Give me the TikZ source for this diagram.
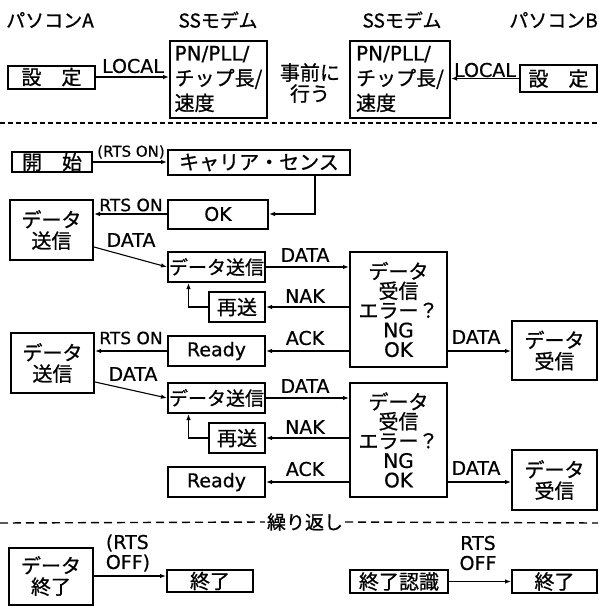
\documentclass[tikz,border=0pt]{standalone}
\usepackage{fontspec}
\setmainfont{Noto Sans CJK JP}[FakeBold=0.8]
\newfontfamily\lafont{DejaVu Sans}[FakeBold=0.6]
\usepackage{tikz}
\usetikzlibrary{arrows.meta, positioning, calc}
\newcommand{\fsz}[2]{\fontsize{#1}{#2}\selectfont}

\begin{document}
\begin{tikzpicture}[x=1pt, y=-1pt,
  box/.style={draw, line width=2pt, inner sep=0pt, align=center, font=\fsz{20}{21}},
  latbox/.style={box, font=\lafont\fsz{19}{21}},
  lbl/.style={inner sep=0pt, align=center, font=\lafont\fsz{19}{20}},
  hdr/.style={inner sep=0pt, font=\fsz{19}{20}},
  conn/.style={line width=1.1pt, -{Latex[length=6pt,width=4.5pt]}},
  sepline/.style={line width=1.4pt, dash pattern=on 5pt off 3pt}]
  \useasboundingbox (0,0) rectangle (598,606);

  % headers
  \node[hdr] (hdrA) at (50,20) {パソコンA};
  \node[hdr] (hdrMA) at (218,20) {SSモデム};
  \node[hdr] (hdrMB) at (402,20) {SSモデム};
  \node[hdr, anchor=east] (hdrB) at (598,20) {パソコンB};

  % setup row
  \node[box, minimum width=87pt, minimum height=23pt] (setA) at (51.5,77) {設　定};
  \node[box, minimum width=97pt, minimum height=77pt, align=left, font=\fsz{20}{25}]
    (pnA) at (218.5,79) {{\lafont PN/PLL/}\\チップ長/\\速度};
  \node[box, minimum width=100pt, minimum height=77pt, align=left, font=\fsz{20}{25}]
    (pnB) at (400,79) {{\lafont PN/PLL/}\\チップ長/\\速度};
  \node[box, minimum width=77pt, minimum height=27pt] (setB) at (558.5,78.5) {設　定};
  \node[inner sep=0pt, align=center, font=\fsz{20}{21}] (pre) at (310,83) {事前に\\行う};
  \node[lbl] (locA) at (133,66) {LOCAL};
  \node[lbl] (locB) at (485,70) {LOCAL};
  \draw[conn] (setA.east) -- (setA.east -| pnA.west);
  \draw[conn] (setB.west) -- (setB.west -| pnB.east);

  \coordinate (sepL1) at (0,123);
  \coordinate (sepR1) at (598,123);
  \draw[sepline] (sepL1) -- (sepR1);

  % carrier sense
  \node[box, minimum width=80pt, minimum height=20pt] (start) at (52,162) {開　始};
  \node[box, minimum width=182pt, minimum height=25pt] (sense) at (259,162.5) {キャリア・センス};
  \node[latbox, minimum width=100pt, minimum height=29pt] (ok) at (218,214) {OK};
  \node[box, minimum width=83pt, minimum height=60pt] (send1) at (51.5,230) {データ\\送信};
  \node[lbl, font=\lafont\fsz{15}{16}] (rtsS) at (131,152) {(RTS ON)};
  \node[lbl, font=\lafont\fsz{17}{18}] (rts1) at (131,205) {RTS ON};
  \node[lbl] (data1) at (131,240) {DATA};
  \draw[conn] (start.east) -- (start.east -| sense.west);
  \draw[conn] ([xshift=56pt]sense.south) |- (ok.east);
  \draw[conn] (ok.west) -- (ok.west -| send1.east);

  % first block
  \node[box, minimum width=97pt, minimum height=30pt, font=\fsz{19}{20}] (sendS1) at (216.5,267) {データ送信};
  \node[box, minimum width=97pt, minimum height=115pt, font=\fsz{20}{19.5}] (recv1) at (398.5,309.5)
    {データ\\受信\\エラー？\\{\lafont NG}\\{\lafont OK}};
  \node[box, minimum width=56pt, minimum height=30pt] (resend1) at (237,307) {再送};
  \node[latbox, minimum width=97pt, minimum height=30pt] (ready1) at (216.5,351) {Ready};
  \node[box, minimum width=85pt, minimum height=59pt] (gotB1) at (554.5,350.5) {データ\\受信};
  \node[lbl] (dS1) at (305,255) {DATA};
  \node[lbl] (nak1) at (305,296) {NAK};
  \node[lbl] (ack1) at (305,338) {ACK};
  \node[lbl] (dR1) at (476,337) {DATA};
  \draw[conn] ([yshift=-17pt]send1.east) -- (sendS1.west);
  \draw[conn] (sendS1.east) -- (sendS1.east -| recv1.west);
  \draw[conn] (resend1.east -| recv1.west) -- (resend1.east);
  \draw[conn] (resend1.west) -| ([xshift=-28pt]sendS1.south);
  \draw[conn] (ready1.east -| recv1.west) -- (ready1.east);
  \draw[conn] (ready1.east -| recv1.east) -- (ready1.east -| gotB1.west);

  % second block
  \node[box, minimum width=83pt, minimum height=60pt] (send2) at (52.5,363) {データ\\送信};
  \node[lbl, font=\lafont\fsz{17}{18}] (rts2) at (131,338) {RTS ON};
  \node[lbl] (data2) at (133,374) {DATA};
  \draw[conn] (ready1.west) -- (ready1.west -| send2.east);
  \node[box, minimum width=97pt, minimum height=30pt, font=\fsz{19}{20}] (sendS2) at (216.5,398) {データ送信};
  \node[box, minimum width=97pt, minimum height=114pt, font=\fsz{20}{19.5}] (recv2) at (398.5,440)
    {データ\\受信\\エラー？\\{\lafont NG}\\{\lafont OK}};
  \node[box, minimum width=56pt, minimum height=30pt] (resend2) at (237,438) {再送};
  \node[latbox, minimum width=97pt, minimum height=30pt] (ready2) at (216.5,482) {Ready};
  \node[box, minimum width=85pt, minimum height=60pt] (gotB2) at (554.5,480) {データ\\受信};
  \node[lbl] (dS2) at (305,386) {DATA};
  \node[lbl] (nak2) at (305,427) {NAK};
  \node[lbl] (ack2) at (305,469) {ACK};
  \node[lbl] (dR2) at (476,468) {DATA};
  \draw[conn] ([yshift=-19pt]send2.east) -- (sendS2.west);
  \draw[conn] (sendS2.east) -- (sendS2.east -| recv2.west);
  \draw[conn] (resend2.east -| recv2.west) -- (resend2.east);
  \draw[conn] (resend2.west) -| ([xshift=-28pt]sendS2.south);
  \draw[conn] (ready2.east -| recv2.west) -- (ready2.east);
  \draw[conn] (ready2.east -| recv2.east) -- (ready2.east -| gotB2.west);

  % repeat
  \node[inner sep=2pt, font=\fsz{19}{20}] (rep) at (305,522) {繰り返し};
  \coordinate (sepL2) at (0,523);
  \coordinate (sepR2) at (598,523);
  \draw[sepline, dash pattern=on 8pt off 5pt] (sepL2) -- (rep.west);
  \draw[sepline, dash pattern=on 8pt off 5pt] (rep.east) -- (sepR2);

  % end
  \node[box, minimum width=84pt, minimum height=57pt] (endA) at (51,576) {データ\\終了};
  \node[box, minimum width=86pt, minimum height=22pt] (end1) at (210,581) {終了};
  \node[box, minimum width=98pt, minimum height=23pt] (endAck) at (399,581.5) {終了認識};
  \node[box, minimum width=85pt, minimum height=23pt] (end2) at (554.5,581.5) {終了};
  \node[lbl, align=left] (off1) at (128,553) {(RTS\\OFF)};
  \node[lbl] (off2) at (478,553) {RTS\\OFF};
  \draw[conn] (endA.east) -- (endA.east -| end1.west);
  \draw[conn] (endAck.east) -- (endAck.east -| end2.west);
\end{tikzpicture}
\end{document}
